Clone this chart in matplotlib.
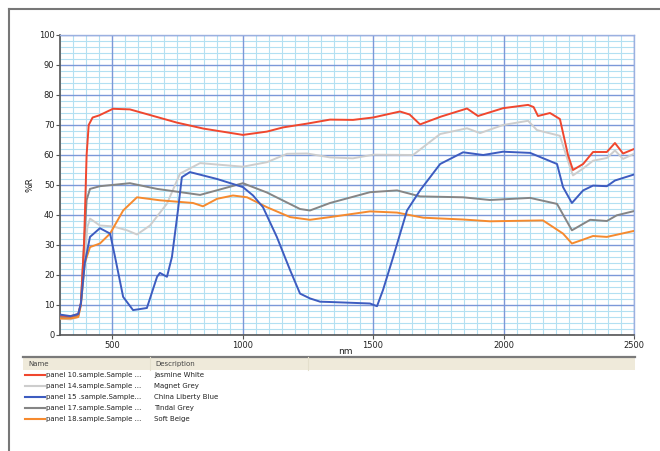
import matplotlib
matplotlib.use("Agg")
import matplotlib.pyplot as plt
from matplotlib.lines import Line2D
from matplotlib.patches import Rectangle
import numpy as np

W, H = 660, 451

# spectra (nm, %R)
red_nm = [300, 340, 370, 380, 392, 402, 410, 425, 450, 503, 568, 650, 748, 850, 1001, 1093, 1155, 1250, 1335, 1423, 1500, 1603, 1640, 1680, 1760, 1860, 1902, 1950, 1998, 2094, 2115, 2132, 2178, 2216, 2247, 2266, 2305, 2343, 2396, 2427, 2458, 2500]
red_r = [6.5, 6.2, 7.0, 10.5, 30, 60, 70, 72.5, 73.2, 75.4, 75.2, 73.2, 70.8, 68.8, 66.7, 67.8, 69.2, 70.5, 71.8, 71.7, 72.5, 74.5, 73.5, 70.2, 72.8, 75.5, 73.0, 74.3, 75.6, 76.7, 76.0, 73.0, 74.0, 72.0, 60.0, 55.0, 57.0, 61.0, 61.0, 64.0, 60.5, 62.0]

lgrey_nm = [300, 340, 370, 380, 395, 405, 415, 453, 503, 557, 595, 645, 710, 760, 837, 1001, 1093, 1170, 1247, 1335, 1423, 1500, 1653, 1757, 1860, 1910, 1998, 2094, 2128, 2216, 2247, 2266, 2305, 2343, 2396, 2427, 2458, 2500]
lgrey_r = [5.5, 5.2, 6.0, 10, 25, 36, 38.8, 36.5, 36.2, 34.9, 33.5, 36.5, 43.8, 53.8, 57.3, 56.1, 57.6, 60.4, 60.5, 59.2, 58.9, 60.1, 60.0, 67.0, 68.9, 67.3, 70.0, 71.4, 68.3, 66.4, 58.0, 53.2, 55.5, 58.1, 59.0, 61.5, 58.7, 60.4]

blue_nm = [300, 340, 370, 380, 395, 415, 453, 492, 511, 542, 580, 633, 672, 683, 710, 729, 752, 767, 798, 902, 1001, 1040, 1078, 1131, 1182, 1220, 1258, 1297, 1335, 1488, 1515, 1538, 1577, 1630, 1680, 1757, 1845, 1922, 1998, 2102, 2205, 2228, 2262, 2305, 2343, 2396, 2427, 2500]
blue_r = [6.8, 6.3, 7.0, 10.5, 24, 32.7, 35.6, 33.8, 26.0, 12.7, 8.3, 9.0, 19.4, 20.7, 19.4, 26.0, 41.5, 52.6, 54.3, 52.0, 49.3, 46.5, 42.6, 32.7, 21.6, 13.8, 12.2, 11.1, 11.0, 10.5, 9.6, 15.0, 26.0, 41.5, 48.2, 57.0, 60.9, 60.0, 61.1, 60.7, 57.0, 49.3, 44.0, 48.2, 49.8, 49.6, 51.5, 53.5]

dgrey_nm = [300, 340, 370, 380, 392, 402, 415, 453, 568, 672, 837, 1001, 1093, 1220, 1258, 1335, 1488, 1592, 1680, 1845, 1948, 2102, 2205, 2262, 2332, 2396, 2434, 2500]
dgrey_r = [6.0, 5.8, 6.5, 10.5, 30, 45, 48.7, 49.6, 50.6, 48.7, 46.7, 50.6, 47.5, 42.0, 41.5, 44.0, 47.6, 48.2, 46.2, 45.9, 45.0, 45.7, 43.7, 34.9, 38.4, 38.0, 39.9, 41.3]

orange_nm = [300, 340, 370, 380, 395, 415, 453, 492, 542, 595, 683, 810, 848, 902, 963, 1017, 1093, 1182, 1258, 1335, 1488, 1592, 1692, 1845, 1948, 2151, 2228, 2262, 2305, 2343, 2396, 2500]
orange_r = [5.5, 5.5, 6.0, 10.0, 24, 29.3, 30.5, 33.8, 41.5, 45.9, 44.9, 44.0, 42.9, 45.4, 46.5, 45.9, 42.6, 39.3, 38.4, 39.3, 41.2, 40.8, 39.1, 38.5, 37.9, 38.2, 33.8, 30.5, 31.8, 33.0, 32.7, 34.7]

names = ["panel 10.sample.Sample ...", "panel 14.sample.Sample ...",
         "panel 15 .sample.Sample...", "panel 17.sample.Sample ...",
         "panel 18.sample.Sample ..."]
descriptions = ["Jasmine White", "Magnet Grey", "China Liberty Blue",
                "Tindal Grey", "Soft Beige"]
colors = ["#f0472e", "#cdcdcd", "#3d5cc0", "#858585", "#f68a2e"]

x_major = [500, 1000, 1500, 2000, 2500]
y_major = list(range(0, 101, 10))

series = [(red_nm, red_r), (lgrey_nm, lgrey_r), (blue_nm, blue_r),
          (dgrey_nm, dgrey_r), (orange_nm, orange_r)]

fig = plt.figure(figsize=(W / 100, H / 100), dpi=100)


def fx(px):
    return px / W


def fy(py):
    return 1 - py / H


ax = fig.add_axes([fx(60), fy(335), fx(634) - fx(60), fy(35) - fy(335)])

# draw order: blue on top like the reference
order = [1, 3, 4, 0, 2]
for i in order:
    x, y = series[i]
    ax.plot(x, y, color=colors[i], lw=1.4, zorder=3,
            solid_joinstyle="round", solid_capstyle="round")

ax.set_xlim(300, 2500)
ax.set_ylim(0, 100)
ax.set_xticks(x_major)
ax.set_xticklabels([str(v) for v in x_major])
ax.set_yticks(y_major)
# fine grid from minor ticks, bold grid drawn on top of it
ax.set_xticks([v for v in range(300, 2501, 50) if v % 500 != 0], minor=True)
ax.set_yticks([v for v in range(0, 101, 2) if v % 10 != 0], minor=True)
ax.grid(which="minor", color="#b3e0f2", lw=0.8, linestyle="-")
for v in x_major:
    ax.axvline(v, color="#7c98d8", lw=1.0, zorder=1)
for v in y_major:
    ax.axhline(v, color="#7c98d8", lw=1.0, zorder=1)
ax.tick_params(which="minor", length=0)
ax.tick_params(which="major", length=3, width=0.8, color="#555555",
               labelsize=6, labelcolor="#222222", pad=1)
for s in ["left", "bottom"]:
    ax.spines[s].set_color("#555555")
    ax.spines[s].set_linewidth(1.2)
for s in ["right", "top"]:
    ax.spines[s].set_color("#9bb0e0")
    ax.spines[s].set_linewidth(1.0)
ax.set_axisbelow(True)

fig.text(fx(30), fy(185), "%R", rotation=90, ha="center", va="center",
         fontsize=6.5, color="#222222")
fig.text(fx(345), fy(352), "nm", ha="center", va="center",
         fontsize=6.5, color="#222222")

# outer frame (cropped on right/bottom)
fig.add_artist(Line2D([fx(9), fx(9)], [fy(9), fy(451)], color="#777777", lw=1.5))
fig.add_artist(Line2D([fx(9), fx(660)], [fy(9), fy(9)], color="#777777", lw=1.5))

# legend table below the plot
fig.add_artist(Rectangle((fx(23), fy(370)), fx(635) - fx(23), fy(357) - fy(370),
                         facecolor="#efeada", edgecolor="none"))
fig.add_artist(Line2D([fx(23), fx(635)], [fy(356.5), fy(356.5)], color="#7a7a7a", lw=1.6))
fig.add_artist(Line2D([fx(150), fx(150)], [fy(357), fy(370)], color="#e4dfcc", lw=0.8))
fig.add_artist(Line2D([fx(308), fx(308)], [fy(357), fy(370)], color="#e4dfcc", lw=0.8))
fig.text(fx(28), fy(364), "Name", fontsize=5, color="#444444", va="center")
fig.text(fx(155), fy(364), "Description", fontsize=5, color="#444444", va="center")

row_y = [375, 386, 397, 408, 419]
for i in range(5):
    fig.add_artist(Line2D([fx(25), fx(45)], [fy(row_y[i]), fy(row_y[i])],
                          color=colors[i], lw=1.5))
    fig.text(fx(46), fy(row_y[i]), names[i], fontsize=5, color="#222222", va="center")
    fig.text(fx(154), fy(row_y[i]), descriptions[i], fontsize=5, color="#222222", va="center")

fig.savefig("out.png", dpi=100)
